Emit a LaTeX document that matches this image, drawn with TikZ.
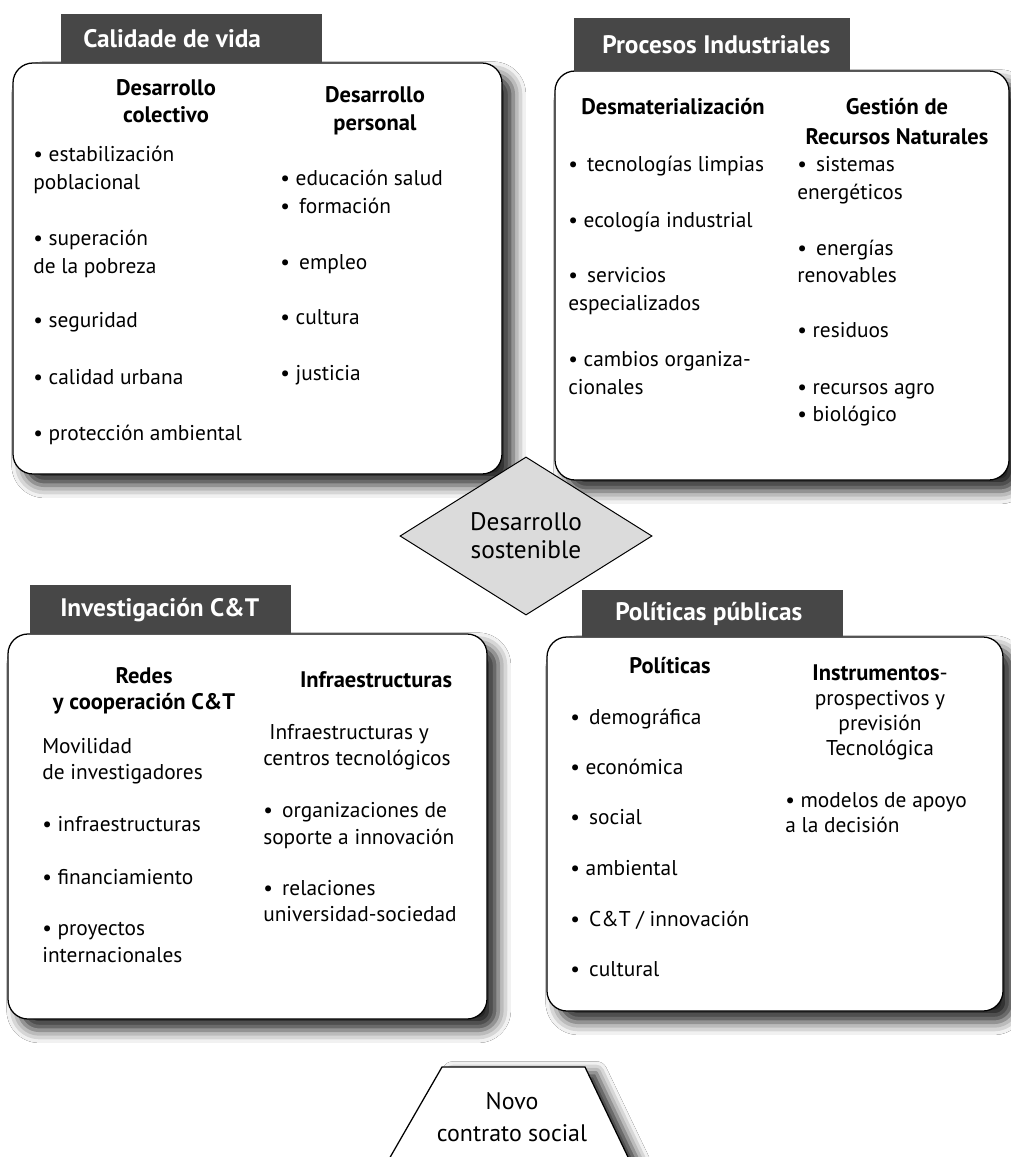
\documentclass[tikz,border=0pt]{standalone}
\usepackage{fontspec}
\setmainfont{PT Sans}
\usetikzlibrary{shapes.geometric,shadows.blur}

\begin{document}
\begin{tikzpicture}[x=0.025cm, y=-0.025cm,
    panel/.style={draw=black, line width=0.9pt, fill=white, rounded corners=0.5cm,
      blur shadow={shadow xshift=8pt, shadow yshift=-8pt, shadow blur radius=9pt, shadow opacity=85}},
    titlebar/.style={fill=black!72},
    titletext/.style={text=white, font=\fontsize{18}{22}\selectfont\bfseries, anchor=west, inner sep=0pt},
    subhead/.style={font=\fontsize{16}{19}\selectfont\bfseries, anchor=base, inner sep=0pt},
    item/.style={font=\fontsize{15.2}{19}\selectfont, anchor=base west, inner sep=0pt},
    centred/.style={item, anchor=base},
  ]
    % page frame
    \useasboundingbox (0,0) rectangle (1011,1157);
    \clip (0,0) rectangle (1011,1157);
    \fill[white] (0,0) rectangle (1011,1157);

    % the four panels
    \draw[panel] (13,63) rectangle (502,474);
    \draw[panel] (555,71) rectangle (1009,480);
    \draw[panel] (8,634) rectangle (487,1019);
    \draw[panel] (547,637) rectangle (1003,1011);

    % panel titles
    \fill[titlebar] (61,14) rectangle (322,63);
    \node[titletext] (hcv) at (83,39) {Calidade de vida};
    \fill[titlebar] (574,18) rectangle (850,71);
    \node[titletext] (hpi) at (602,45) {Procesos Industriales};
    \fill[titlebar] (30,585) rectangle (291,634);
    \node[titletext] (hic) at (60,610) {Investigación C\&T};
    \fill[titlebar] (582,590) rectangle (843,637);
    \node[titletext] (hpp) at (615,614) {Políticas públicas};

    % Calidade de vida
    \node[subhead] (cvh1) at (166,95) {Desarrollo};
    \node[subhead] (cvh2) at (166,122) {colectivo};
    \node[subhead] (cvh3) at (375,102) {Desarrollo};
    \node[subhead] (cvh4) at (375,130) {personal};
    \foreach \y/\t [count=\i] in {161/{• estabilización},189/poblacional,245/{• superación},
        273/{de la pobreza},327/{• seguridad},384/{• calidad urbana},440/{• protección ambiental}}
        \node[item] (cvl\i) at (33,\y) {\t};
    \foreach \y/\t [count=\i] in {185/{• educación salud},213/{•\, formación},269/{•\, empleo},
        324/{• cultura},380/{• justicia}}
        \node[item] (cvr\i) at (280,\y) {\t};

    % Procesos Industriales
    \node[subhead] (pih1) at (673,114) {Desmaterialización};
    \node[subhead] (pih2) at (897,114) {Gestión de};
    \node[subhead] (pih3) at (897,144) {Recursos Naturales};
    \foreach \y/\t [count=\i] in {171/{•\, tecnologías limpias},227/{• ecología industrial},282/{•\, servicios},
        310/especializados,366/{• cambios organiza-},394/cionales}
        \node[item] (pil\i) at (568,\y) {\t};
    \foreach \y/\t [count=\i] in {171/{•\, sistemas},199/energéticos,255/{•\, energías},282/renovables,
        337/{• residuos},394/{• recursos agro},421/{• biológico}}
        \node[item] (pir\i) at (797,\y) {\t};

    % Investigacion C&T
    \node[subhead] (ich1) at (144,683) {Redes};
    \node[subhead] (ich2) at (144,709) {y cooperación C\&T};
    \node[subhead] (ich3) at (376,687) {Infraestructuras};
    \foreach \y/\t [count=\i] in {753/Movilidad,779/{de investigadores},831/{• infraestructuras},
        884/{• financiamiento},935/{• proyectos},962/internacionales}
        \node[item] (icl\i) at (42,\y) {\t};
    \node[item] (icr1) at (269,739) {Infraestructuras y};
    \foreach \y/\t [count=\i from 2] in {765/{centros tecnológicos},817/{•\, organizaciones de},
        844/{soporte a innovación},895/{•\, relaciones},921/universidad-sociedad}
        \node[item] (icr\i) at (263,\y) {\t};

    % Politicas publicas
    \node[subhead] (pph1) at (670,673) {Políticas};
    \node[subhead] (pph2) at (880,680) {Instrumentos\textmd{-}};
    \node[centred] (pph3) at (880,705) {prospectivos y};
    \node[centred] (pph4) at (880,730) {previsión};
    \node[centred] (pph5) at (880,755) {Tecnológica};
    \foreach \y/\t [count=\i] in {724/{•\, demográfica},774/{• económica},824/{•\, social},
        875/{• ambiental},926/{•\, C\&T / innovación},976/{•\, cultural}}
        \node[item] (ppl\i) at (570,\y) {\t};
    \node[item] (ppr1) at (785,807) {• modelos de apoyo};
    \node[item] (ppr2) at (785,832) {a la decisión};

    % centre diamond
    \node[diamond, draw=black, line width=0.7pt, fill=black!14, inner sep=0pt,
        minimum width=6.3cm, minimum height=3.425cm, align=center,
        font=\fontsize{18}{20}\selectfont] (ds) at (526,536) {Desarrollo\\sostenible};

    % bottom trapezium, cut by the page edge
    \draw[line width=0.9pt, fill=white,
        blur shadow={shadow xshift=8pt, shadow yshift=-4pt, shadow blur radius=8pt, shadow opacity=85}]
        (377,1180) -- (442,1067) -- (585,1067) -- (639,1180);
    \node[align=center, font=\fontsize{17}{23}\selectfont] (ncs) at (512,1117) {Novo\\contrato social};
\end{tikzpicture}
\end{document}
